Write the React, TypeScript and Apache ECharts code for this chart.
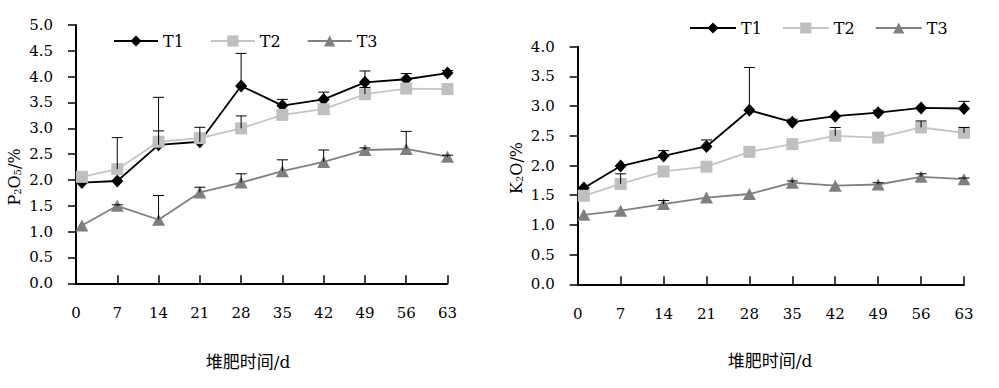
import React, { useEffect, useRef } from "react";
import * as echarts from "echarts";

// ---- data ----
const days = [1, 7, 14, 21, 28, 35, 42, 49, 56, 63];
const seriesNames = ["T1", "T2", "T3"];

// P2O5 (%)
const pT1 = [1.95, 1.98, 2.68, 2.74, 3.82, 3.44, 3.56, 3.89, 3.95, 4.07];
const pT2 = [2.06, 2.21, 2.74, 2.81, 3.0, 3.26, 3.37, 3.66, 3.77, 3.76];
const pT3 = [1.12, 1.5, 1.23, 1.76, 1.95, 2.17, 2.35, 2.58, 2.6, 2.45];
const pT1Err = [0, 0, 0.27, 0.28, 0.63, 0.12, 0.14, 0.22, 0.11, 0.05];
const pT2Err = [0, 0.61, 0.86, 0, 0.24, 0, 0, 0.13, 0, 0];
const pT3Err = [0, 0.02, 0.47, 0.1, 0.17, 0.22, 0.23, 0.04, 0.34, 0.03];

// K2O (%)
const kT1 = [1.62, 1.99, 2.16, 2.32, 2.93, 2.73, 2.83, 2.89, 2.97, 2.96];
const kT2 = [1.49, 1.69, 1.9, 1.98, 2.23, 2.36, 2.5, 2.47, 2.64, 2.55];
const kT3 = [1.17, 1.24, 1.35, 1.46, 1.52, 1.71, 1.66, 1.68, 1.81, 1.77];
const kT1Err = [0, 0, 0.09, 0.11, 0.72, 0.05, 0, 0.04, 0, 0.12];
const kT2Err = [0, 0.17, 0, 0, 0, 0, 0.14, 0, 0.11, 0.09];
const kT3Err = [0, 0, 0.06, 0, 0, 0.03, 0, 0.03, 0.05, 0.02];

const xTitle = "堆肥时间/d";

const FONT = '"DejaVu Serif", "Liberation Serif", serif';
const CJK_FONT = '"DejaVu Serif", "Noto Sans CJK SC", serif';

const looks = [
  { symbol: "diamond", symbolSize: [12, 13], color: "#000000", line: "#000000" },
  { symbol: "rect", symbolSize: 12, color: "#bfbfbf", line: "#c4c4c4" },
  { symbol: "triangle", symbolSize: [13, 12], color: "#7f7f7f", line: "#808080" },
];

function pairs(vals: number[]) {
  return days.map((d, i) => [d, vals[i]]);
}
function errTriples(vals: number[], errs: number[]) {
  return days.map((d, i) => [d, vals[i], errs[i]]).filter((p) => p[2] > 0);
}

function lineSeries(name: string, idx: number, vals: number[], axis: number) {
  const lk = looks[idx];
  return {
    type: "line",
    name,
    xAxisIndex: axis,
    yAxisIndex: axis,
    data: pairs(vals),
    symbol: lk.symbol,
    symbolSize: lk.symbolSize,
    itemStyle: { color: lk.color },
    lineStyle: { color: lk.line, width: 1.8 },
    z: 3 + idx,
  };
}

function errSeries(name: string, vals: number[], errs: number[], axis: number) {
  return {
    type: "custom",
    name,
    xAxisIndex: axis,
    yAxisIndex: axis,
    dimensions: ["x", "y", "e"],
    encode: { x: 0, y: 1 },
    data: errTriples(vals, errs),
    z: 10,
    clip: false,
    renderItem: (params: any, api: any) => {
      const x = api.value(0);
      const v = api.value(1);
      const e = api.value(2);
      const p0 = api.coord([x, v]);
      const p1 = api.coord([x, v + e]);
      const st = { stroke: "#000000", lineWidth: 1 };
      return {
        type: "group",
        children: [
          { type: "line", shape: { x1: p0[0], y1: p0[1], x2: p1[0], y2: p1[1] }, style: st },
          { type: "line", shape: { x1: p1[0] - 5.5, y1: p1[1], x2: p1[0] + 5.5, y2: p1[1] }, style: st },
        ],
      };
    },
  };
}

function xAxisCfg(gridIndex: number) {
  return {
    type: "value",
    gridIndex,
    min: 0,
    max: 63,
    interval: 7,
    axisLine: { show: true, lineStyle: { color: "#000", width: 2 } },
    axisTick: { show: true, inside: true, length: 8, lineStyle: { color: "#000", width: 1.5 } },
    axisLabel: { color: "#000", fontSize: 15, fontFamily: FONT, margin: 22 },
    splitLine: { show: false },
  };
}

function yAxisCfg(gridIndex: number, max: number) {
  return {
    type: "value",
    gridIndex,
    min: 0,
    max,
    interval: 0.5,
    axisLine: { show: true, lineStyle: { color: "#000", width: 2 } },
    axisTick: { show: true, inside: false, length: 8, lineStyle: { color: "#000", width: 1.5 } },
    axisLabel: {
      color: "#000",
      fontSize: 15,
      fontFamily: FONT,
      margin: 23,
      formatter: (v: number) => v.toFixed(1),
    },
    splitLine: { show: false },
  };
}

function legendCfg(left: number, top: number, itemWidth: number, itemGap: number) {
  return {
    show: true,
    left,
    top,
    padding: 0,
    itemWidth,
    itemHeight: 14,
    itemGap,
    data: seriesNames,
    textStyle: { color: "#000", fontSize: 16, fontFamily: FONT },
  };
}

const richTitle = {
  n: { fontSize: 16, fontFamily: FONT, color: "#000" },
  s: { fontSize: 10, fontFamily: FONT, color: "#000", verticalAlign: "bottom" },
};

export default function App() {
  const ref = useRef<HTMLDivElement>(null);
  useEffect(() => {
    document.body.style.margin = "0";
    if (!ref.current) return;
    const chart = echarts.init(ref.current, null, { renderer: "svg" });
    const option: any = {
      animation: false,
      backgroundColor: "#ffffff",
      grid: [
        { left: 76, top: 25, width: 371.5, height: 258.3, containLabel: false },
        { left: 577.7, top: 46.7, width: 386.3, height: 237.6, containLabel: false },
      ],
      xAxis: [xAxisCfg(0), xAxisCfg(1)],
      yAxis: [yAxisCfg(0, 5), yAxisCfg(1, 4)],
      legend: [legendCfg(113, 33, 44, 26), legendCfg(689, 20, 46, 20)],
      series: [
        lineSeries("T1", 0, pT1, 0),
        lineSeries("T2", 1, pT2, 0),
        lineSeries("T3", 2, pT3, 0),
        errSeries("errT1p", pT1, pT1Err, 0),
        errSeries("errT2p", pT2, pT2Err, 0),
        errSeries("errT3p", pT3, pT3Err, 0),
        lineSeries("T1", 0, kT1, 1),
        lineSeries("T2", 1, kT2, 1),
        lineSeries("T3", 2, kT3, 1),
        errSeries("errT1k", kT1, kT1Err, 1),
        errSeries("errT2k", kT2, kT2Err, 1),
        errSeries("errT3k", kT3, kT3Err, 1),
      ],
      graphic: [
        {
          type: "text",
          x: 14,
          y: 177,
          rotation: Math.PI / 2,
          style: {
            text: "{n|P}{s|2}{n|O}{s|5}{n|/%}",
            rich: richTitle,
            align: "center",
            verticalAlign: "middle",
          },
        },
        {
          type: "text",
          x: 516,
          y: 168,
          rotation: Math.PI / 2,
          style: {
            text: "{n|K}{s|2}{n|O/%}",
            rich: richTitle,
            align: "center",
            verticalAlign: "middle",
          },
        },
        {
          type: "text",
          x: 248,
          y: 362,
          style: {
            text: xTitle,
            fontSize: 17,
            fontFamily: CJK_FONT,
            fill: "#000",
            align: "center",
            verticalAlign: "middle",
          },
        },
        {
          type: "text",
          x: 770,
          y: 361,
          style: {
            text: xTitle,
            fontSize: 17,
            fontFamily: CJK_FONT,
            fill: "#000",
            align: "center",
            verticalAlign: "middle",
          },
        },
      ],
    };
    chart.setOption(option);
    return () => {
      chart.dispose();
    };
  }, []);
  return <div ref={ref} style={{ width: 999, height: 388 }} />;
}
